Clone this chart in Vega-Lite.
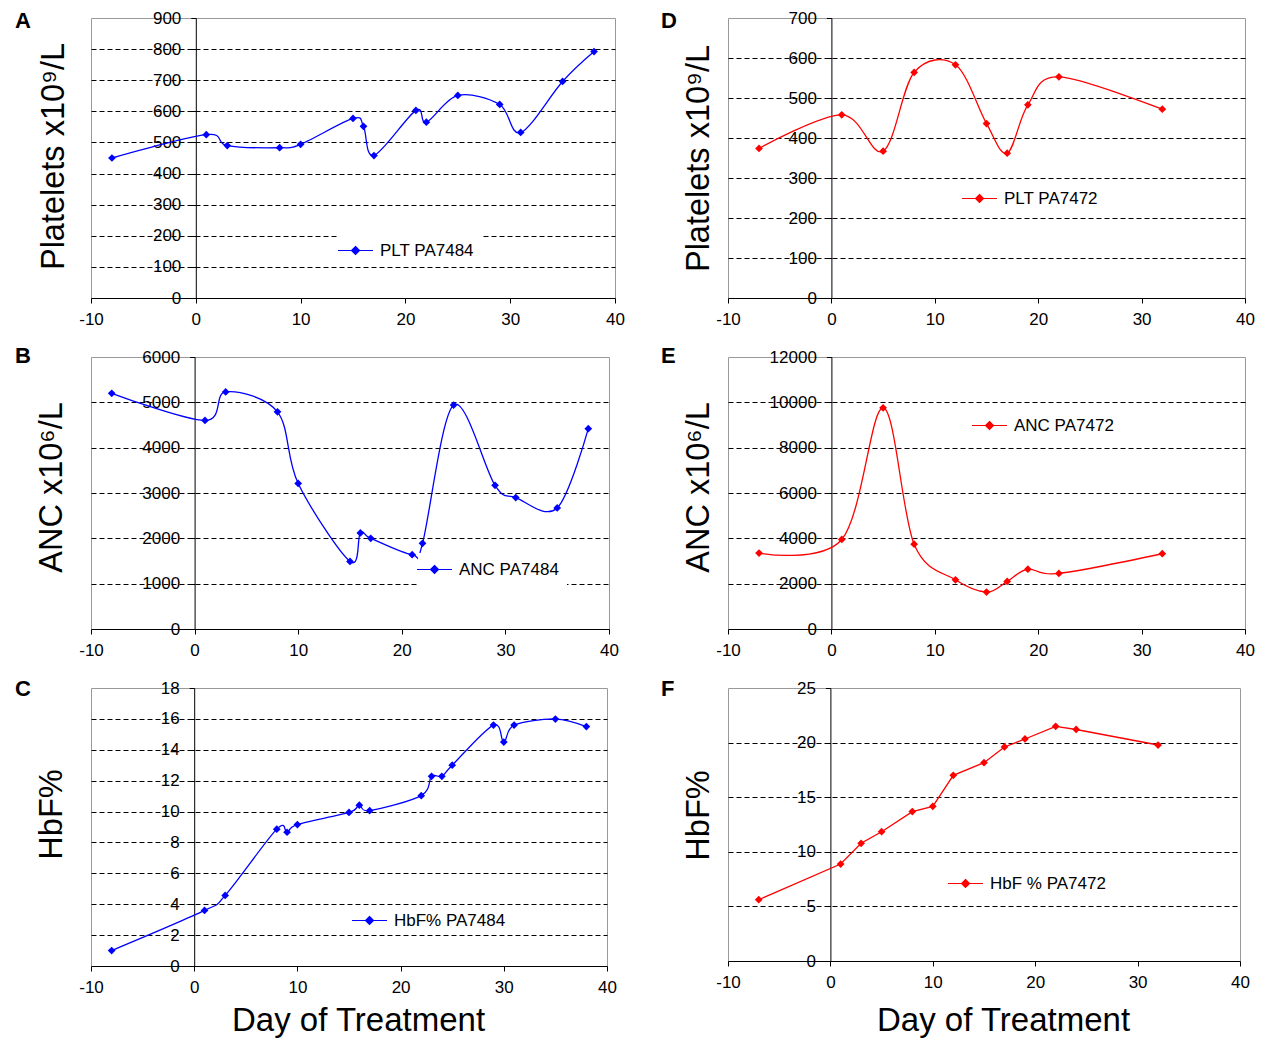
{
  "$schema": "https://vega.github.io/schema/vega-lite/v6.json",
  "padding": {"left": 14, "top": 8, "right": 5, "bottom": 5},
  "background": "white",
  "columns": 2,
  "bounds": "flush",
  "align": "each",
  "spacing": {"row": 59, "column": 113},
  "resolve": {"scale": {"x": "independent", "y": "independent", "color": "independent"}, "legend": {"color": "independent"}},
  "datasets": {
    "A": [
      {"day": -8, "value": 450, "series": "PLT PA7484"},
      {"day": 1, "value": 525, "series": "PLT PA7484"},
      {"day": 3, "value": 490, "series": "PLT PA7484"},
      {"day": 8, "value": 483, "series": "PLT PA7484"},
      {"day": 10, "value": 494, "series": "PLT PA7484"},
      {"day": 15, "value": 577, "series": "PLT PA7484"},
      {"day": 16, "value": 552, "series": "PLT PA7484"},
      {"day": 17, "value": 458, "series": "PLT PA7484"},
      {"day": 21, "value": 603, "series": "PLT PA7484"},
      {"day": 22, "value": 565, "series": "PLT PA7484"},
      {"day": 25, "value": 651, "series": "PLT PA7484"},
      {"day": 29, "value": 622, "series": "PLT PA7484"},
      {"day": 31, "value": 532, "series": "PLT PA7484"},
      {"day": 35, "value": 696, "series": "PLT PA7484"},
      {"day": 38, "value": 792, "series": "PLT PA7484"}
    ],
    "D": [
      {"day": -7, "value": 374, "series": "PLT PA7472"},
      {"day": 1, "value": 458, "series": "PLT PA7472"},
      {"day": 5, "value": 367, "series": "PLT PA7472"},
      {"day": 8, "value": 564, "series": "PLT PA7472"},
      {"day": 12, "value": 583, "series": "PLT PA7472"},
      {"day": 15, "value": 436, "series": "PLT PA7472"},
      {"day": 17, "value": 362, "series": "PLT PA7472"},
      {"day": 19, "value": 483, "series": "PLT PA7472"},
      {"day": 22, "value": 553, "series": "PLT PA7472"},
      {"day": 32, "value": 472, "series": "PLT PA7472"}
    ],
    "B": [
      {"day": -8, "value": 5200, "series": "ANC PA7484"},
      {"day": 1, "value": 4600, "series": "ANC PA7484"},
      {"day": 3, "value": 5230, "series": "ANC PA7484"},
      {"day": 8, "value": 4790, "series": "ANC PA7484"},
      {"day": 10, "value": 3210, "series": "ANC PA7484"},
      {"day": 15, "value": 1490, "series": "ANC PA7484"},
      {"day": 16, "value": 2120, "series": "ANC PA7484"},
      {"day": 17, "value": 2000, "series": "ANC PA7484"},
      {"day": 21, "value": 1640, "series": "ANC PA7484"},
      {"day": 22, "value": 1890, "series": "ANC PA7484"},
      {"day": 25, "value": 4940, "series": "ANC PA7484"},
      {"day": 29, "value": 3170, "series": "ANC PA7484"},
      {"day": 31, "value": 2900, "series": "ANC PA7484"},
      {"day": 35, "value": 2670, "series": "ANC PA7484"},
      {"day": 38, "value": 4420, "series": "ANC PA7484"}
    ],
    "E": [
      {"day": -7, "value": 3350, "series": "ANC PA7472"},
      {"day": 1, "value": 3950, "series": "ANC PA7472"},
      {"day": 5, "value": 9760, "series": "ANC PA7472"},
      {"day": 8, "value": 3740, "series": "ANC PA7472"},
      {"day": 12, "value": 2170, "series": "ANC PA7472"},
      {"day": 15, "value": 1630, "series": "ANC PA7472"},
      {"day": 17, "value": 2100, "series": "ANC PA7472"},
      {"day": 19, "value": 2640, "series": "ANC PA7472"},
      {"day": 22, "value": 2450, "series": "ANC PA7472"},
      {"day": 32, "value": 3320, "series": "ANC PA7472"}
    ],
    "C": [
      {"day": -8, "value": 1.0, "series": "HbF% PA7484"},
      {"day": 1, "value": 3.6, "series": "HbF% PA7484"},
      {"day": 3, "value": 4.57, "series": "HbF% PA7484"},
      {"day": 8, "value": 8.86, "series": "HbF% PA7484"},
      {"day": 9, "value": 8.66, "series": "HbF% PA7484"},
      {"day": 10, "value": 9.16, "series": "HbF% PA7484"},
      {"day": 15, "value": 9.94, "series": "HbF% PA7484"},
      {"day": 16, "value": 10.41, "series": "HbF% PA7484"},
      {"day": 17, "value": 10.06, "series": "HbF% PA7484"},
      {"day": 22, "value": 11.03, "series": "HbF% PA7484"},
      {"day": 23, "value": 12.28, "series": "HbF% PA7484"},
      {"day": 24, "value": 12.28, "series": "HbF% PA7484"},
      {"day": 25, "value": 13.0, "series": "HbF% PA7484"},
      {"day": 29, "value": 15.6, "series": "HbF% PA7484"},
      {"day": 30, "value": 14.5, "series": "HbF% PA7484"},
      {"day": 31, "value": 15.6, "series": "HbF% PA7484"},
      {"day": 35, "value": 15.99, "series": "HbF% PA7484"},
      {"day": 38, "value": 15.5, "series": "HbF% PA7484"}
    ],
    "F": [
      {"day": -7, "value": 5.62, "series": "HbF % PA7472"},
      {"day": 1, "value": 8.88, "series": "HbF % PA7472"},
      {"day": 3, "value": 10.78, "series": "HbF % PA7472"},
      {"day": 5, "value": 11.84, "series": "HbF % PA7472"},
      {"day": 8, "value": 13.68, "series": "HbF % PA7472"},
      {"day": 10, "value": 14.16, "series": "HbF % PA7472"},
      {"day": 12, "value": 17.0, "series": "HbF % PA7472"},
      {"day": 15, "value": 18.16, "series": "HbF % PA7472"},
      {"day": 17, "value": 19.6, "series": "HbF % PA7472"},
      {"day": 19, "value": 20.33, "series": "HbF % PA7472"},
      {"day": 22, "value": 21.49, "series": "HbF % PA7472"},
      {"day": 24, "value": 21.2, "series": "HbF % PA7472"},
      {"day": 32, "value": 19.78, "series": "HbF % PA7472"}
    ]
  },
  "concat": [
    {
      "width": 524, "height": 280,
      "title": {"text": "A", "dx": -76, "dy": 28},
      "data": {"name": "A"},
      "encoding": {
        "x": {"field": "day", "type": "quantitative", "scale": {"domain": [-10, 40], "nice": false, "zero": false}, "axis": {"values": [-10, 0, 10, 20, 30, 40], "title": null, "labelExpr": "'' + datum.value"}},
        "y": {"field": "value", "type": "quantitative", "scale": {"domain": [0, 900], "nice": false}, "axis": {"values": [0, 100, 200, 300, 400, 500, 600, 700, 800, 900], "offset": -104.8, "title": "Platelets x10⁹/L", "titleX": -142.8, "titleY": 138, "labelExpr": "'' + datum.value", "gridOpacity": {"condition": {"test": "datum.value <= 0 || datum.value >= 900", "value": 0}, "value": 1}}}
      },
      "layer": [
        {"mark": {"type": "line", "interpolate": "cardinal", "strokeWidth": 1.3, "color": "#0000ff"}},
        {"mark": {"type": "point", "shape": "diamond", "filled": true, "size": 60, "opacity": 1},
         "encoding": {
           "color": {"field": "series", "type": "nominal", "scale": {"range": ["#0000ff"]},
             "legend": {"orient": "none", "legendX": 248, "legendY": 216, "title": null, "padding": 8, "fillColor": "white", "labelOffset": 16, "labelFontSize": 17, "labelFont": "Liberation Sans", "labelColor": "black",
               "symbolType": "M-3.5,0L3.5,0M0,-0.8L0.8,0L0,0.8L-0.8,0Z", "symbolSize": 100, "symbolStrokeColor": "#0000ff", "symbolFillColor": "#0000ff", "symbolStrokeWidth": 1.2, "symbolOpacity": 1,
               "encode": {"symbols": {"update": {"shape": {"value": "M-3.5,0L3.5,0M0,-0.8L0.8,0L0,0.8L-0.8,0Z"}, "size": {"value": 100}, "fill": {"value": "#0000ff"}, "stroke": {"value": "#0000ff"}, "strokeWidth": {"value": 1.2}, "opacity": {"value": 1}, "strokeOpacity": {"value": 1}, "fillOpacity": {"value": 1}}}}}}
         }}
      ]
    },
    {
      "width": 517, "height": 280,
      "title": {"text": "D", "dx": -67, "dy": 28},
      "data": {"name": "D"},
      "encoding": {
        "x": {"field": "day", "type": "quantitative", "scale": {"domain": [-10, 40], "nice": false, "zero": false}, "axis": {"values": [-10, 0, 10, 20, 30, 40], "title": null, "labelExpr": "'' + datum.value"}},
        "y": {"field": "value", "type": "quantitative", "scale": {"domain": [0, 700], "nice": false}, "axis": {"values": [0, 100, 200, 300, 400, 500, 600, 700], "offset": -103.4, "title": "Platelets x10⁹/L", "titleX": -133.4, "titleY": 140, "labelExpr": "'' + datum.value", "gridOpacity": {"condition": {"test": "datum.value <= 0 || datum.value >= 700", "value": 0}, "value": 1}}}
      },
      "layer": [
        {"mark": {"type": "line", "interpolate": "cardinal", "strokeWidth": 1.3, "color": "#ff0000"}},
        {"mark": {"type": "point", "shape": "diamond", "filled": true, "size": 60, "opacity": 1},
         "encoding": {
           "color": {"field": "series", "type": "nominal", "scale": {"range": ["#ff0000"]},
             "legend": {"orient": "none", "legendX": 237, "legendY": 166, "title": null, "padding": 6, "fillColor": "white", "labelOffset": 16, "labelFontSize": 17, "labelFont": "Liberation Sans", "labelColor": "black",
               "symbolType": "M-3.5,0L3.5,0M0,-0.8L0.8,0L0,0.8L-0.8,0Z", "symbolSize": 100, "symbolStrokeColor": "#ff0000", "symbolFillColor": "#ff0000", "symbolStrokeWidth": 1.2, "symbolOpacity": 1,
               "encode": {"symbols": {"update": {"shape": {"value": "M-3.5,0L3.5,0M0,-0.8L0.8,0L0,0.8L-0.8,0Z"}, "size": {"value": 100}, "fill": {"value": "#ff0000"}, "stroke": {"value": "#ff0000"}, "strokeWidth": {"value": 1.2}, "opacity": {"value": 1}, "strokeOpacity": {"value": 1}, "fillOpacity": {"value": 1}}}}}}
         }}
      ]
    },
    {
      "width": 518, "height": 272,
      "title": {"text": "B", "dx": -76, "dy": 24},
      "data": {"name": "B"},
      "encoding": {
        "x": {"field": "day", "type": "quantitative", "scale": {"domain": [-10, 40], "nice": false, "zero": false}, "axis": {"values": [-10, 0, 10, 20, 30, 40], "title": null, "labelExpr": "'' + datum.value"}},
        "y": {"field": "value", "type": "quantitative", "scale": {"domain": [0, 6000], "nice": false}, "axis": {"values": [0, 1000, 2000, 3000, 4000, 5000, 6000], "offset": -103.6, "title": "ANC x10⁶/L", "titleX": -143.6, "titleY": 130, "labelExpr": "'' + datum.value", "gridOpacity": {"condition": {"test": "datum.value <= 0 || datum.value >= 6000", "value": 0}, "value": 1}}}
      },
      "layer": [
        {"mark": {"type": "line", "interpolate": "cardinal", "strokeWidth": 1.3, "color": "#0000ff"}},
        {"mark": {"type": "point", "shape": "diamond", "filled": true, "size": 60, "opacity": 1},
         "encoding": {
           "color": {"field": "series", "type": "nominal", "scale": {"range": ["#0000ff"]},
             "legend": {"orient": "none", "legendX": 327, "legendY": 196, "title": null, "padding": 8, "fillColor": "white", "labelOffset": 16, "labelFontSize": 17, "labelFont": "Liberation Sans", "labelColor": "black",
               "symbolType": "M-3.5,0L3.5,0M0,-0.8L0.8,0L0,0.8L-0.8,0Z", "symbolSize": 100, "symbolStrokeColor": "#0000ff", "symbolFillColor": "#0000ff", "symbolStrokeWidth": 1.2, "symbolOpacity": 1,
               "encode": {"symbols": {"update": {"shape": {"value": "M-3.5,0L3.5,0M0,-0.8L0.8,0L0,0.8L-0.8,0Z"}, "size": {"value": 100}, "fill": {"value": "#0000ff"}, "stroke": {"value": "#0000ff"}, "strokeWidth": {"value": 1.2}, "opacity": {"value": 1}, "strokeOpacity": {"value": 1}, "fillOpacity": {"value": 1}}}}}}
         }}
      ]
    },
    {
      "width": 517, "height": 272,
      "title": {"text": "E", "dx": -67, "dy": 24},
      "data": {"name": "E"},
      "encoding": {
        "x": {"field": "day", "type": "quantitative", "scale": {"domain": [-10, 40], "nice": false, "zero": false}, "axis": {"values": [-10, 0, 10, 20, 30, 40], "title": null, "labelExpr": "'' + datum.value"}},
        "y": {"field": "value", "type": "quantitative", "scale": {"domain": [0, 12000], "nice": false}, "axis": {"values": [0, 2000, 4000, 6000, 8000, 10000, 12000], "offset": -103.4, "title": "ANC x10⁶/L", "titleX": -133.4, "titleY": 130, "labelExpr": "'' + datum.value", "gridOpacity": {"condition": {"test": "datum.value <= 0 || datum.value >= 12000", "value": 0}, "value": 1}}}
      },
      "layer": [
        {"mark": {"type": "line", "interpolate": "cardinal", "strokeWidth": 1.3, "color": "#ff0000"}},
        {"mark": {"type": "point", "shape": "diamond", "filled": true, "size": 60, "opacity": 1},
         "encoding": {
           "color": {"field": "series", "type": "nominal", "scale": {"range": ["#ff0000"]},
             "legend": {"orient": "none", "legendX": 247, "legendY": 54, "title": null, "padding": 6, "fillColor": "white", "labelOffset": 16, "labelFontSize": 17, "labelFont": "Liberation Sans", "labelColor": "black",
               "symbolType": "M-3.5,0L3.5,0M0,-0.8L0.8,0L0,0.8L-0.8,0Z", "symbolSize": 100, "symbolStrokeColor": "#ff0000", "symbolFillColor": "#ff0000", "symbolStrokeWidth": 1.2, "symbolOpacity": 1,
               "encode": {"symbols": {"update": {"shape": {"value": "M-3.5,0L3.5,0M0,-0.8L0.8,0L0,0.8L-0.8,0Z"}, "size": {"value": 100}, "fill": {"value": "#ff0000"}, "stroke": {"value": "#ff0000"}, "strokeWidth": {"value": 1.2}, "opacity": {"value": 1}, "strokeOpacity": {"value": 1}, "fillOpacity": {"value": 1}}}}}}
         }}
      ]
    },
    {
      "width": 516, "height": 278,
      "title": {"text": "C", "dx": -76, "dy": 26},
      "data": {"name": "C"},
      "encoding": {
        "x": {"field": "day", "type": "quantitative", "scale": {"domain": [-10, 40], "nice": false, "zero": false}, "axis": {"values": [-10, 0, 10, 20, 30, 40], "title": "Day of Treatment", "titleX": 267, "titleY": 54, "labelExpr": "'' + datum.value"}},
        "y": {"field": "value", "type": "quantitative", "scale": {"domain": [0, 18], "nice": false}, "axis": {"values": [0, 2, 4, 6, 8, 10, 12, 14, 16, 18], "offset": -103.2, "title": "HbF%", "titleX": -143.2, "titleY": 126, "labelExpr": "'' + datum.value", "gridOpacity": {"condition": {"test": "datum.value <= 0 || datum.value >= 18", "value": 0}, "value": 1}}}
      },
      "layer": [
        {"mark": {"type": "line", "interpolate": "cardinal", "strokeWidth": 1.3, "color": "#0000ff"}},
        {"mark": {"type": "point", "shape": "diamond", "filled": true, "size": 60, "opacity": 1},
         "encoding": {
           "color": {"field": "series", "type": "nominal", "scale": {"range": ["#0000ff"]},
             "legend": {"orient": "none", "legendX": 265, "legendY": 219, "title": null, "padding": 5, "fillColor": "white", "labelOffset": 16, "labelFontSize": 17, "labelFont": "Liberation Sans", "labelColor": "black",
               "symbolType": "M-3.5,0L3.5,0M0,-0.8L0.8,0L0,0.8L-0.8,0Z", "symbolSize": 100, "symbolStrokeColor": "#0000ff", "symbolFillColor": "#0000ff", "symbolStrokeWidth": 1.2, "symbolOpacity": 1,
               "encode": {"symbols": {"update": {"shape": {"value": "M-3.5,0L3.5,0M0,-0.8L0.8,0L0,0.8L-0.8,0Z"}, "size": {"value": 100}, "fill": {"value": "#0000ff"}, "stroke": {"value": "#0000ff"}, "strokeWidth": {"value": 1.2}, "opacity": {"value": 1}, "strokeOpacity": {"value": 1}, "fillOpacity": {"value": 1}}}}}}
         }}
      ]
    },
    {
      "width": 512, "height": 273,
      "title": {"text": "F", "dx": -67, "dy": 26},
      "data": {"name": "F"},
      "encoding": {
        "x": {"field": "day", "type": "quantitative", "scale": {"domain": [-10, 40], "nice": false, "zero": false}, "axis": {"values": [-10, 0, 10, 20, 30, 40], "title": "Day of Treatment", "titleX": 275, "titleY": 59, "labelExpr": "'' + datum.value"}},
        "y": {"field": "value", "type": "quantitative", "scale": {"domain": [0, 25], "nice": false}, "axis": {"values": [0, 5, 10, 15, 20, 25], "offset": -102.4, "title": "HbF%", "titleX": -132.4, "titleY": 127, "labelExpr": "'' + datum.value", "gridOpacity": {"condition": {"test": "datum.value <= 0 || datum.value >= 25", "value": 0}, "value": 1}}}
      },
      "layer": [
        {"mark": {"type": "line", "interpolate": "linear", "strokeWidth": 1.3, "color": "#ff0000"}},
        {"mark": {"type": "point", "shape": "diamond", "filled": true, "size": 60, "opacity": 1},
         "encoding": {
           "color": {"field": "series", "type": "nominal", "scale": {"range": ["#ff0000"]},
             "legend": {"orient": "none", "legendX": 223, "legendY": 181, "title": null, "padding": 6, "fillColor": "white", "labelOffset": 16, "labelFontSize": 17, "labelFont": "Liberation Sans", "labelColor": "black",
               "symbolType": "M-3.5,0L3.5,0M0,-0.8L0.8,0L0,0.8L-0.8,0Z", "symbolSize": 100, "symbolStrokeColor": "#ff0000", "symbolFillColor": "#ff0000", "symbolStrokeWidth": 1.2, "symbolOpacity": 1,
               "encode": {"symbols": {"update": {"shape": {"value": "M-3.5,0L3.5,0M0,-0.8L0.8,0L0,0.8L-0.8,0Z"}, "size": {"value": 100}, "fill": {"value": "#ff0000"}, "stroke": {"value": "#ff0000"}, "strokeWidth": {"value": 1.2}, "opacity": {"value": 1}, "strokeOpacity": {"value": 1}, "fillOpacity": {"value": 1}}}}}}
         }}
      ]
    }
  ],
  "config": {
    "font": "Liberation Sans",
    "view": {"stroke": "#999999", "strokeWidth": 1},
    "title": {"anchor": "start", "frame": "group", "orient": "top", "offset": 0, "baseline": "middle", "fontSize": 22, "fontWeight": "bold", "font": "Liberation Sans", "color": "black"},
    "axis": {"domainColor": "black", "domainWidth": 1, "tickColor": "black", "tickSize": 5, "tickWidth": 1, "labelColor": "black", "labelFont": "Liberation Sans", "labelFontSize": 17, "labelOverlap": false, "labelFlush": false, "titleFont": "Liberation Sans", "titleFontWeight": "normal", "titleColor": "black"},
    "axisX": {"grid": false, "labelPadding": 8, "titleFontSize": 33, "titleBaseline": "middle", "titleAlign": "center"},
    "axisY": {"grid": true, "gridColor": "black", "gridDash": [5, 3], "gridWidth": 1, "labelPadding": 10, "titleFontSize": 32.5, "titleAngle": -90, "titleAlign": "center", "titleBaseline": "middle"}
  }
}
